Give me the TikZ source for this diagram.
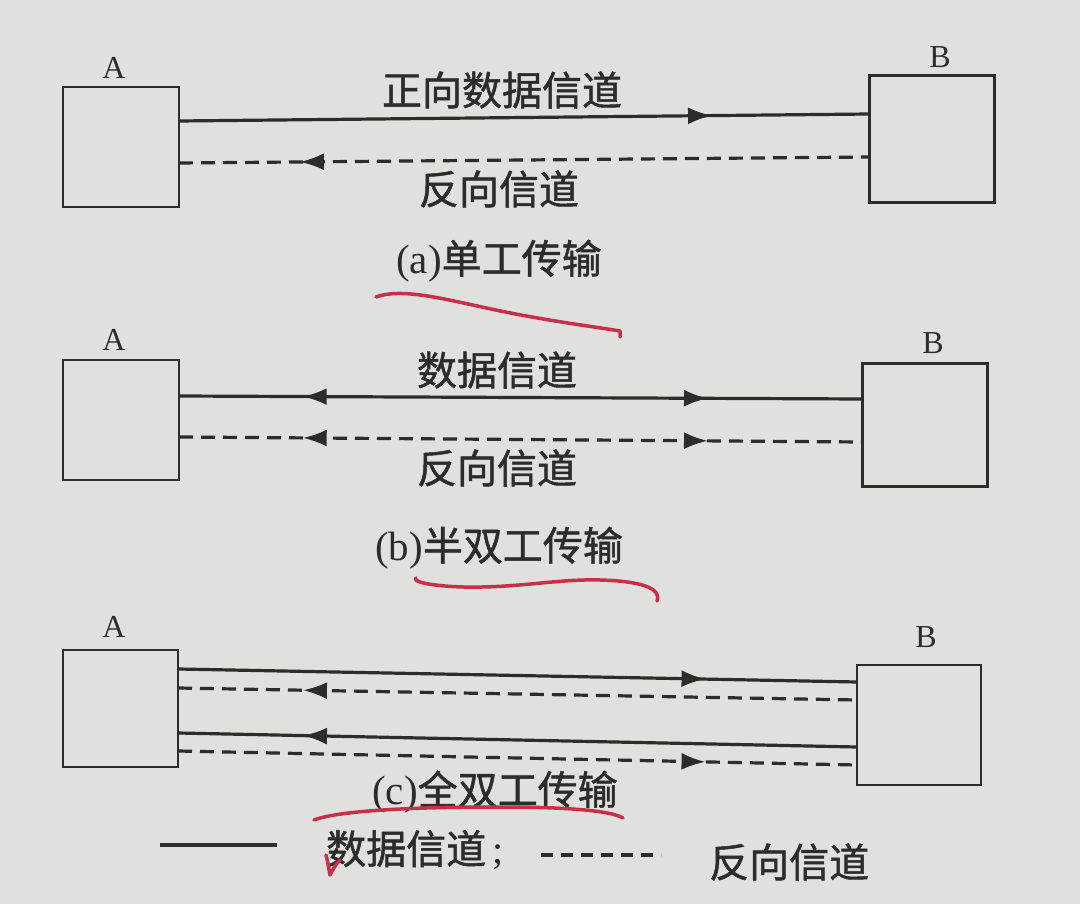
\documentclass[tikz,border=0pt]{standalone}
\usepackage{fontspec}
\setmainfont{Liberation Serif}
\newfontfamily\cjk{Noto Sans CJK SC}[FakeBold=1.2]
\usetikzlibrary{arrows.meta,decorations.markings}
\definecolor{paper}{HTML}{E0E0DE}
\definecolor{ink}{HTML}{2C2C2C}
\definecolor{pen}{HTML}{C8304A}
\begin{document}
\begin{tikzpicture}[x=1pt,y=-1pt,
  box/.style={draw=ink,line width=2.8pt,inner sep=0pt,outer sep=0pt},
  lbl/.style={font=\fontsize{32}{36}\selectfont,text=ink,inner sep=0pt},
  zh/.style={font=\fontsize{40}{44}\selectfont\cjk,text=ink,inner sep=0pt},
  captxt/.style={font=\fontsize{41}{44}\selectfont,text=ink,inner sep=0pt},
  chan/.style={draw=ink,line width=3.2pt},
  back/.style={chan,dash pattern=on 14pt off 8pt},
  fwd/.style={postaction={decorate,decoration={markings,mark=at position #1 with {\arrow{Latex[length=24pt,width=17pt]}}}}},
  bwd/.style={postaction={decorate,decoration={markings,mark=at position #1 with {\arrowreversed{Latex[length=24pt,width=17pt]}}}}},
  redpen/.style={draw=pen,line width=3.5pt,line cap=round,line join=round}
]
\fill[paper] (0,0) rectangle (1080,904);
\useasboundingbox (0,0) rectangle (1080,904);

% ---------------- (a) ----------------
\node[box,minimum width=116,minimum height=120] (Aa) at (121,147) {};
\node[box,minimum width=125,minimum height=127] (Ba) at (932,139) {};
\node[lbl] (la) at (114,68) {A};
\node[lbl] (lb) at (940,57) {B};
\draw[chan,fwd=0.772] (Aa.east |- 0,121) -- (Ba.west |- 0,114);
\draw[back,bwd=0.175] (Aa.east |- 0,163) -- (Ba.west |- 0,157);
\node[zh] (ta1) at (502,90) {正向数据信道};
\node[zh] (ta2) at (499,189) {反向信道};
\node[captxt] (capa) at (499,261) {(a){\cjk\fontsize{40}{44}\selectfont 单工传输}};
\draw[redpen] (376,297) .. controls (400,288) and (440,298) .. (482,307)
  .. controls (540,320) and (590,326) .. (620,331) -- (620,337);

% ---------------- (b) ----------------
\node[box,minimum width=116,minimum height=120] (Ab) at (121,420) {};
\node[box,minimum width=125,minimum height=123] (Bb) at (925,425) {};
\node[lbl] (la2) at (114,340) {A};
\node[lbl] (lb2) at (933,343) {B};
\draw[chan,fwd=0.774,bwd=0.181] (Ab.east |- 0,396) -- (Bb.west |- 0,399);
\draw[back,fwd=0.774,bwd=0.181] (Ab.east |- 0,437) -- (Bb.west |- 0,442);
\node[zh] (tb1) at (497,370) {数据信道};
\node[zh] (tb2) at (497,468) {反向信道};
\node[captxt] (capb) at (499,548) {(b){\cjk\fontsize{40}{44}\selectfont 半双工传输}};
\draw[redpen] (416,578) .. controls (410,582) and (440,588) .. (482,587)
  .. controls (530,586) and (560,579) .. (600,580)
  .. controls (640,581) and (662,588) .. (657,601);

% ---------------- (c) ----------------
\node[box,minimum width=115,minimum height=117] (Ac) at (120.5,708.5) {};
\node[box,minimum width=124,minimum height=120] (Bc) at (919,725) {};
\node[lbl] (la3) at (114,627) {A};
\node[lbl] (lb3) at (926,637) {B};
\draw[chan,fwd=0.777] (Ac.east |- 0,669) -- (Bc.west |- 0,682);
\draw[back,bwd=0.184] (Ac.east |- 0,688) -- (Bc.west |- 0,700);
\draw[chan,bwd=0.184] (Ac.east |- 0,733) -- (Bc.west |- 0,747);
\draw[back,fwd=0.777] (Ac.east |- 0,751) -- (Bc.west |- 0,765);
\node[captxt] (capc) at (495,792) {(c){\cjk\fontsize{40}{44}\selectfont 全双工传输}};
\draw[redpen] (314,820) .. controls (340,810) and (420,807) .. (500,807)
  .. controls (560,807) and (610,810) .. (623,818);

% ---------------- legend ----------------
\coordinate (l1s) at (160,845);
\coordinate (l1e) at (277,845);
\draw[chan] (l1s) -- (l1e);
\node[zh,anchor=west] (lg1) at (326,850) {数据信道{\rmfamily\fontsize{40}{44}\selectfont\,;}};
\coordinate (l2s) at (541,855);
\coordinate (l2e) at (661,855);
\draw[chan,dash pattern=on 12pt off 8pt] (l2s) -- (l2e);
\node[zh,anchor=west] (lg2) at (709,862) {反向信道};
\draw[redpen,line width=3.5pt] (326,855) .. controls (328,862) and (329,870) .. (330,875)
  .. controls (333,869) and (336,864) .. (340,860);
\end{tikzpicture}
\end{document}
